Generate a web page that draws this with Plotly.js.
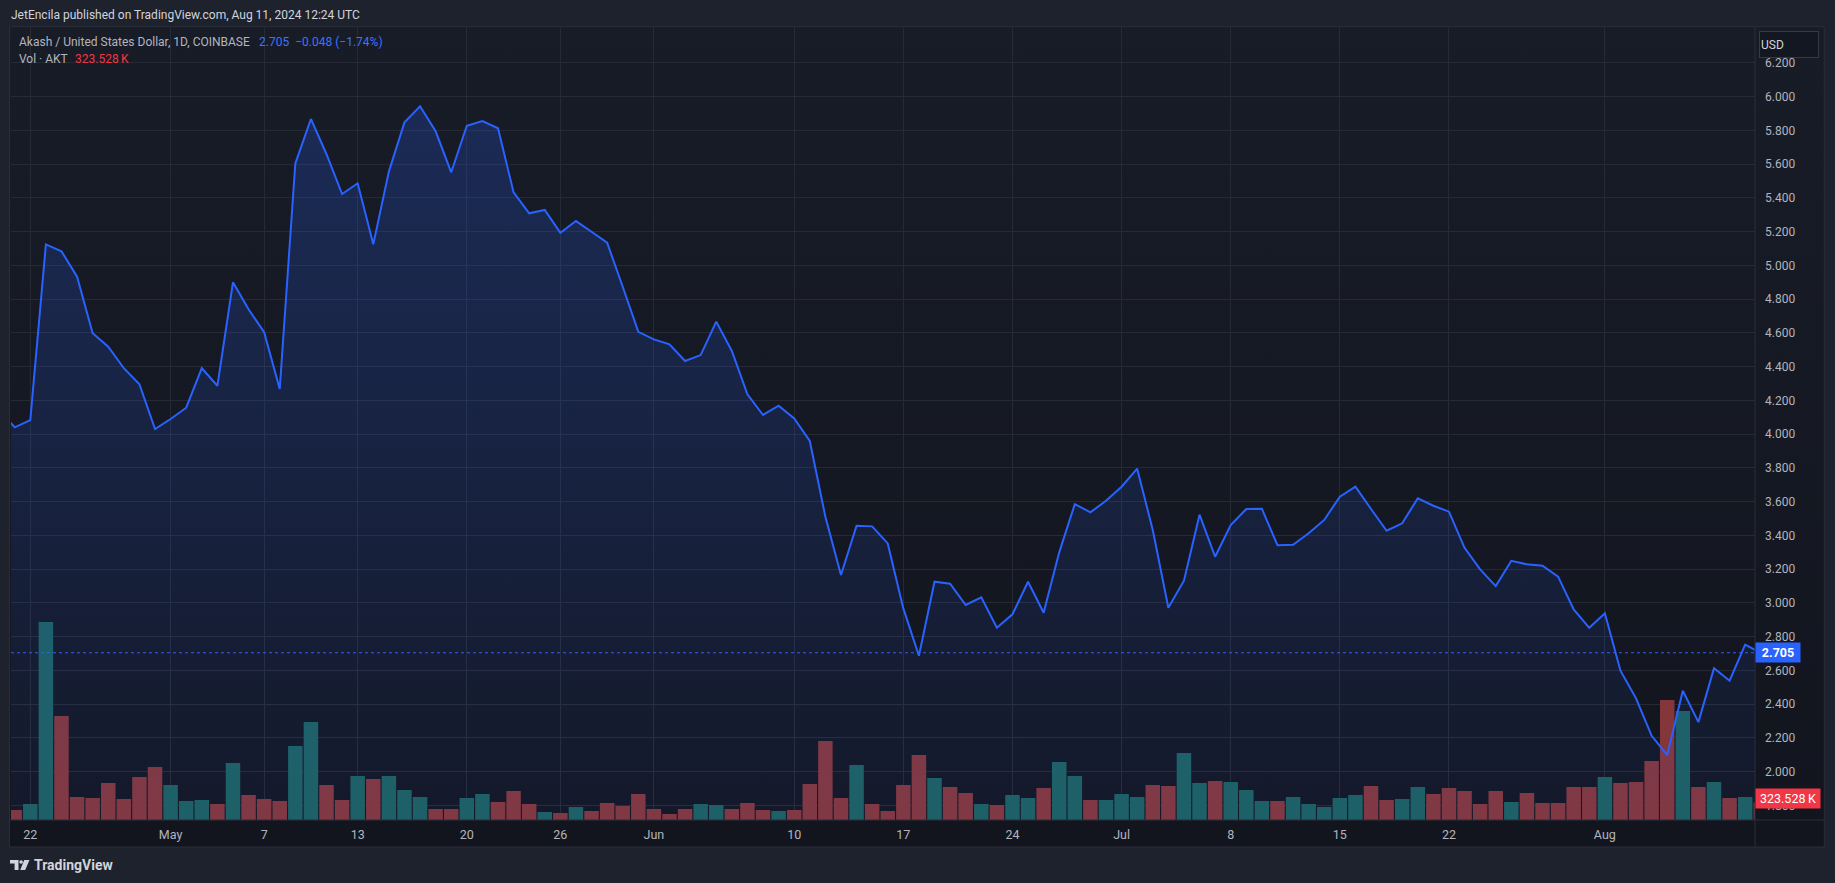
<!DOCTYPE html>
<html><head><meta charset="utf-8">
<script src="https://cdn.plot.ly/plotly-3.0.1.min.js"></script>
<style>html,body{margin:0;padding:0;background:#1e222d;overflow:hidden}#chart{width:1835px;height:883px}</style>
</head><body><div id="chart"></div>
<script>
// ---- data (daily, starting 2024-04-20) ----
const startDate = '2024-04-20';
const closePrices = [
  4.140, 4.041, 4.084, 5.125, 5.084, 4.933, 4.598, 4.519, 4.391, 4.296, 4.031,
  4.090, 4.157, 4.391, 4.287, 4.900, 4.740, 4.604, 4.268, 5.605, 5.868, 5.659, 5.423, 5.487, 5.125, 5.556, 5.848, 5.943, 5.795, 5.552, 5.828, 5.856, 5.813, 5.433, 5.309, 5.329, 5.194, 5.263, 5.200, 5.135, 4.874, 4.607,
  4.562, 4.533, 4.434, 4.469, 4.667, 4.493, 4.236, 4.114, 4.169, 4.094, 3.960, 3.511, 3.166, 3.458, 3.454, 3.353, 2.968, 2.687, 3.126, 3.114, 2.988, 3.033, 2.853, 2.933, 3.126, 2.942, 3.300, 3.586, 3.537, 3.606,
  3.689, 3.796, 3.432, 2.972, 3.132, 3.523, 3.274, 3.462, 3.557, 3.558, 3.342, 3.345, 3.413, 3.492, 3.630, 3.689, 3.557, 3.428, 3.472, 3.620, 3.576, 3.541, 3.327, 3.199, 3.100, 3.250, 3.229, 3.221, 3.156, 2.962, 2.853,
  2.939, 2.599, 2.435, 2.213, 2.099, 2.480, 2.294, 2.613, 2.539, 2.753, 2.705
];
const volumesK = [
  366, 183, 293, 3623, 1903, 421, 403, 677, 384, 787, 970,
  641, 348, 366, 293, 1043, 458, 384, 348, 1354, 1793, 641, 366, 805, 750, 805, 549, 421, 201, 201, 403, 476, 329, 531, 293, 146, 128, 238, 165, 311, 256, 476,
  201, 110, 201, 293, 275, 201, 311, 183, 165, 183, 659, 1446, 403, 1007, 293, 165, 641, 1190, 769, 604, 494, 293, 275, 458, 403, 586, 1061, 805, 366, 366,
  476, 421, 641, 622, 1226, 677, 714, 695, 549, 348, 348, 421, 293, 238, 403, 458, 622, 366, 384, 604, 476, 586, 531, 293, 531, 329, 494, 311, 311, 604, 604,
  787, 677, 695, 1080, 2196, 1995, 604, 695, 403, 421, 323.528
];
const xTickDates = ['2024-04-22','2024-05-01','2024-05-07','2024-05-13','2024-05-20','2024-05-26','2024-06-01','2024-06-10','2024-06-17','2024-06-24','2024-07-01','2024-07-08','2024-07-15','2024-07-22','2024-08-01'];
const xTickLabels = ['22','May','7','13','20','26','Jun','10','17','24','Jul','8','15','22','Aug'];
const priceTicks = [1.8, 2.0, 2.2, 2.4, 2.6, 2.8, 3.0, 3.2, 3.4, 3.6, 3.8, 4.0, 4.2, 4.4, 4.6, 4.8, 5.0, 5.2, 5.4, 5.6, 5.8, 6.0, 6.2];

// ---- derived ----
const dates = [];
{
  const d0 = new Date(startDate + 'T00:00:00Z');
  for (let i = 0; i < closePrices.length; i++) {
    const d = new Date(d0.getTime() + i * 86400000);
    dates.push(d.toISOString().slice(0, 10));
  }
}
const UP = '#1e605f', DOWN = '#85363a';
const volColors = closePrices.map((c, i) => (i === 0 || c >= closePrices[i - 1]) ? UP : DOWN);
const lastClose = closePrices[closePrices.length - 1];
const prevClose = closePrices[closePrices.length - 2];
const chg = lastClose - prevClose;
const pct = chg / prevClose * 100;
const fmtSigned = (v, n) => (v < 0 ? '\u2212' : '+') + Math.abs(v).toFixed(n);
const lastVol = volumesK[volumesK.length - 1];

// ---- pixel geometry helpers ----
const L = 11, R = 1755, T = 27, B = 820;
const px = x => (x - L) / (R - L);
const py = y => (B - y) / (B - T);
const pathPx = pts => pts.map((p, i) => (i ? 'L' : 'M') + px(p[0]).toFixed(5) + ',' + py(p[1]).toFixed(5)).join(' ') + ' Z';

const grid = '#262a35';
const txt = '#b2b5be';
const FONT = 'Roboto, "Liberation Sans", sans-serif';
const FS = 12;

const bgSvg = "<svg xmlns='http://www.w3.org/2000/svg' width='100' height='100' preserveAspectRatio='none'><defs><linearGradient id='g' x1='0' y1='0' x2='0' y2='1'><stop offset='0' stop-color='#181c27'/><stop offset='1' stop-color='#12151e'/></linearGradient></defs><rect width='100' height='100' fill='url(#g)'/></svg>";
const bgUri = 'data:image/svg+xml;charset=utf-8,' + encodeURIComponent(bgSvg);

const volumeTrace = {
  type: 'bar', x: dates, y: volumesK, yaxis: 'y', xaxis: 'x',
  marker: { color: volColors, line: { width: 0 } },
  hoverinfo: 'skip'
};
const priceTrace = {
  type: 'scatter', mode: 'lines', x: dates, y: closePrices, yaxis: 'y2', xaxis: 'x',
  line: { color: '#2962ff', width: 2 },
  fill: 'tozeroy',
  fillgradient: { type: 'vertical', start: 1.714, stop: Math.max(...closePrices),
    colorscale: [[0, 'rgba(41,98,255,0.05)'], [1, 'rgba(41,98,255,0.22)']] },
  hoverinfo: 'skip'
};

const ann = (o) => Object.assign({ xref: 'paper', yref: 'paper', showarrow: false, xanchor: 'left', yanchor: 'middle', font: { family: FONT, size: FS, color: txt } }, o);

const layout = {
  width: 1835, height: 883,
  margin: { l: L, r: 1835 - R, t: T, b: 883 - B, pad: 0 },
  paper_bgcolor: '#1e222d', plot_bgcolor: 'rgba(0,0,0,0)',
  showlegend: false, bargap: 0.07,
  font: { family: FONT, color: txt, size: FS },
  xaxis: {
    type: 'date', range: ['2024-04-20 18:17', '2024-08-10 15:07'],
    tickmode: 'array', tickvals: xTickDates, ticktext: xTickLabels,
    showgrid: true, gridcolor: grid, gridwidth: 1, zeroline: false, showline: false, ticks: '',
    tickfont: { family: FONT, size: 12.5, color: txt }, ticklabelstandoff: 5, fixedrange: true
  },
  yaxis: { range: [0, 14510], visible: false, showgrid: false, zeroline: false, fixedrange: true },
  yaxis2: {
    overlaying: 'y', side: 'right', range: [1.714, 6.413],
    tickmode: 'array', tickvals: priceTicks, tickformat: '.3f',
    showgrid: true, gridcolor: grid, gridwidth: 1, zeroline: false, showline: false, ticks: '',
    tickfont: { family: FONT, size: 12, color: txt }, ticklabelstandoff: 9, fixedrange: true
  },
  images: [{ source: bgUri, xref: 'paper', yref: 'paper', x: px(9.5), y: py(26.7), sizex: px(1824.3) - px(9.5), sizey: py(26.7) - py(847), sizing: 'stretch', xanchor: 'left', yanchor: 'top', layer: 'below' }],
  shapes: [
    { type: 'rect', xref: 'paper', yref: 'paper', x0: px(9.5), x1: px(1824.3), y0: py(847), y1: py(26.7), line: { color: '#2a2e39', width: 1 }, layer: 'below' },
    { type: 'line', xref: 'paper', yref: 'paper', x0: px(9.5), x1: px(1824.3), y0: 0, y1: 0, line: { color: '#2a2e39', width: 1 } },
    { type: 'line', xref: 'paper', yref: 'paper', x0: 1, x1: 1, y0: py(847), y1: py(26.7), line: { color: '#2a2e39', width: 1 } },
    { type: 'line', xref: 'paper', yref: 'y2', x0: 0, x1: 1, y0: lastClose, y1: lastClose, line: { color: '#2962ff', width: 1, dash: 'dot' } },
    // TradingView logo
    { type: 'path', xref: 'paper', yref: 'paper', path: pathPx([[10, 860], [18.5, 860], [18.5, 870], [14.6, 870], [14.6, 863.6], [10, 863.6]]), fillcolor: '#d1d4dc', line: { width: 0 } },
    { type: 'circle', xref: 'paper', yref: 'paper', x0: px(19.3), x1: px(22.9), y0: py(863.8), y1: py(860.2), fillcolor: '#d1d4dc', line: { width: 0 } },
    { type: 'path', xref: 'paper', yref: 'paper', path: pathPx([[24.2, 860], [29.5, 860], [25.2, 870], [20.2, 870]]), fillcolor: '#d1d4dc', line: { width: 0 } }
  ],
  annotations: [
    ann({ x: px(9), y: py(15), text: 'JetEncila published on TradingView.com, Aug 11, 2024 12:24 UTC', font: { family: FONT, size: FS, color: '#d1d4dc' } }),
    ann({ x: px(17), y: py(41.7), text: 'Akash / United States Dollar, 1D, COINBASE' }),
    ann({ x: px(257), y: py(41.7), text: lastClose.toFixed(3) + '\u2002' + fmtSigned(chg, 3) + ' (' + fmtSigned(pct, 2) + '%)', font: { family: FONT, size: FS, color: '#3a74ff' } }),
    ann({ x: px(17), y: py(58.7), text: 'Vol \u00b7 AKT' }),
    ann({ x: px(73), y: py(58.7), text: lastVol.toFixed(3) + '\u2009K', font: { family: FONT, size: FS, color: '#f23645' } }),
    ann({ x: px(1758.7), y: py(44), text: 'USD', width: 56, height: 23, align: 'left', bgcolor: '#131722', bordercolor: '#363a45', borderwidth: 1, borderpad: 1, font: { family: FONT, size: 12, color: '#d1d4dc' } }),
    ann({ x: 1, yref: 'y2', y: lastClose, text: '<b>' + lastClose.toFixed(3) + '</b>', bgcolor: '#2962ff', borderpad: 2, width: 40, align: 'center', font: { family: FONT, size: 12.5, color: '#ffffff' } }),
    ann({ x: 1, yref: 'y', y: lastVol, yshift: 4, text: lastVol.toFixed(3) + '\u2009K', bgcolor: '#f23645', borderpad: 2, width: 60, align: 'center', font: { family: FONT, size: 12.5, color: '#ffffff' } }),
    ann({ x: px(32), y: py(865), text: '<b>TradingView</b>', font: { family: FONT, size: 14, color: '#d1d4dc' } })
  ]
};

Plotly.newPlot('chart', [volumeTrace, priceTrace], layout, { staticPlot: true, displayModeBar: false });
</script>
</body></html>
